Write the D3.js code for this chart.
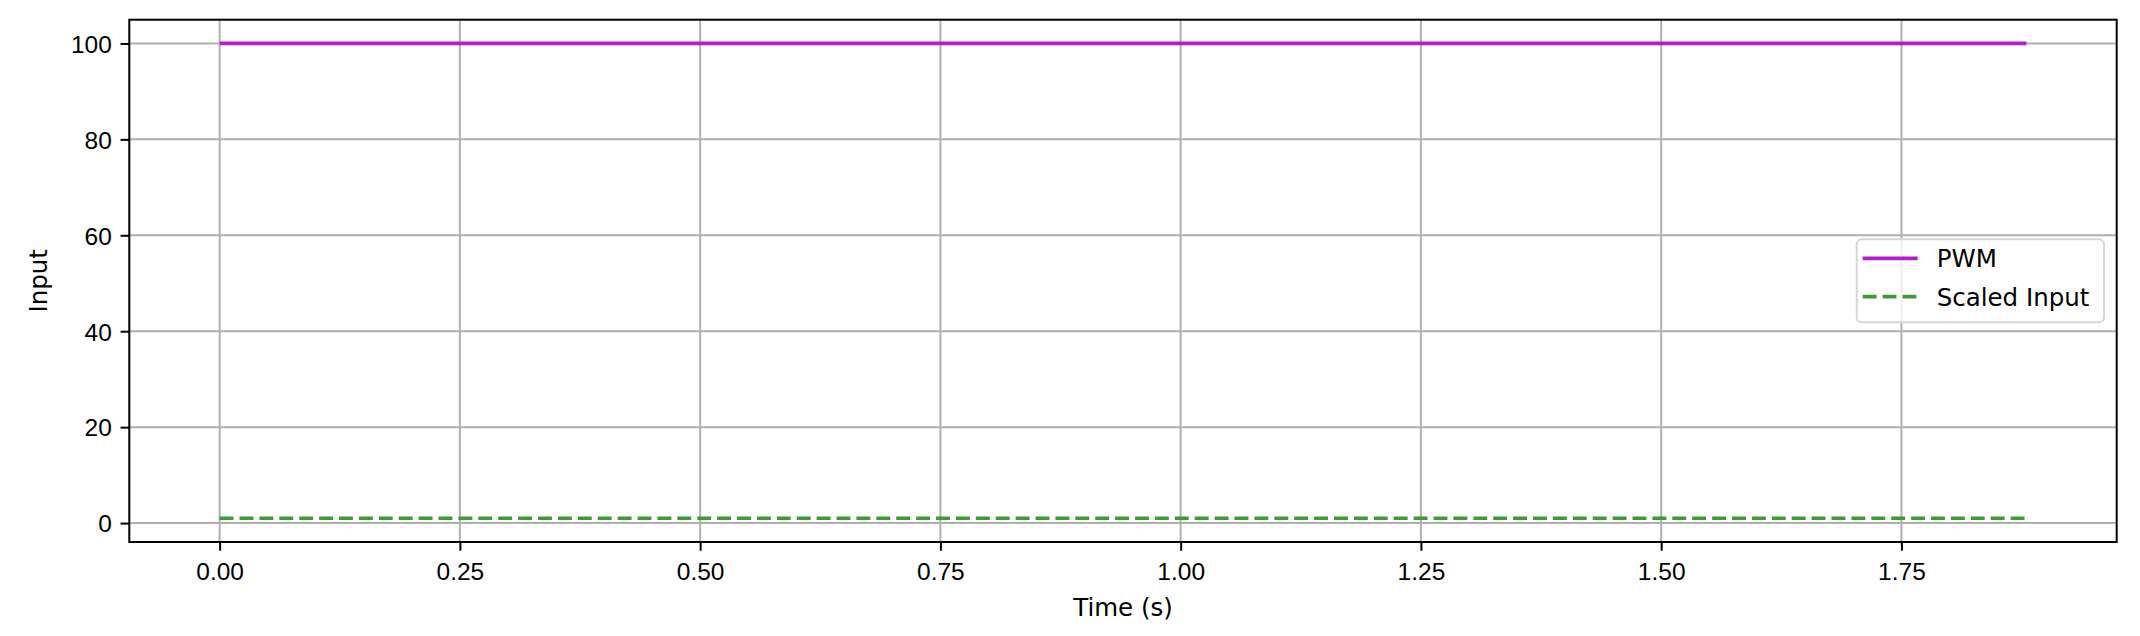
<!DOCTYPE html>
<html>
<head>
<meta charset="utf-8">
<script src="https://cdn.jsdelivr.net/npm/d3@7"></script>
<style>
  body { margin: 0; background: #fff; }
  svg { display: block; font-family: 'DejaVu Sans', sans-serif; }
  .tick text { font-size: 24.5px; fill: #000; }
</style>
</head>
<body>
<div id="chart"></div>
<script>
// data
const timeS = [0, 0.25, 0.5, 0.75, 1.0, 1.25, 1.5, 1.75, 1.88];
const pwm = [100, 100, 100, 100, 100, 100, 100, 100, 100];
const scaledInput = [1, 1, 1, 1, 1, 1, 1, 1, 1];
const xTicks = [0, 0.25, 0.5, 0.75, 1.0, 1.25, 1.5, 1.75];
const yTicks = [0, 20, 40, 60, 80, 100];

const series = [
  { name: 'PWM', values: pwm, color: '#b31fc6', dash: null },
  { name: 'Scaled Input', values: scaledInput, color: '#3f9a35', dash: '13.9,6' }
];

const W = 2140, H = 636;
const margin = { top: 19.7, right: W - 2116.7, bottom: H - 542, left: 129.3 };
const width = W - margin.left - margin.right;
const height = H - margin.top - margin.bottom;

// matplotlib style 5% margins
const xExt = d3.extent(timeS);
const xPad = (xExt[1] - xExt[0]) * 0.05;
const allY = pwm.concat(scaledInput);
const yExt = d3.extent(allY);
const yPad = (yExt[1] - yExt[0]) * 0.05;

const x = d3.scaleLinear().domain([xExt[0] - xPad, xExt[1] + xPad]).range([0, width]);
const y = d3.scaleLinear().domain([yExt[0] - yPad, yExt[1] + yPad]).range([height, 0]);

const svg = d3.select('#chart').append('svg')
  .attr('width', W)
  .attr('height', H);

const chart = svg.append('g')
  .attr('transform', 'translate(' + margin.left + ',' + margin.top + ')');

// grid
chart.append('g')
  .selectAll('line.vgrid')
  .data(xTicks)
  .enter().append('line')
  .attr('x1', d => x(d)).attr('x2', d => x(d))
  .attr('y1', 0).attr('y2', height)
  .attr('stroke', '#b0b0b0').attr('stroke-width', 2);

chart.append('g')
  .selectAll('line.hgrid')
  .data(yTicks)
  .enter().append('line')
  .attr('x1', 0).attr('x2', width)
  .attr('y1', d => y(d)).attr('y2', d => y(d))
  .attr('stroke', '#b0b0b0').attr('stroke-width', 2);

// lines
const line = d3.line()
  .x((d, i) => x(timeS[i]))
  .y(d => y(d));

series.forEach(s => {
  chart.append('path')
    .datum(s.values)
    .attr('fill', 'none')
    .attr('stroke', s.color)
    .attr('stroke-width', 3.7)
    .attr('stroke-dasharray', s.dash)
    .attr('d', line);
});

// axes
const xAxis = d3.axisBottom(x).tickValues(xTicks).tickFormat(d3.format('.2f'))
  .tickSize(8.75).tickPadding(8.75);
const yAxis = d3.axisLeft(y).tickValues(yTicks).tickFormat(d3.format('d'))
  .tickSize(8.75).tickPadding(8.75);

const gx = chart.append('g')
  .attr('transform', 'translate(0,' + height + ')')
  .call(xAxis);
gx.select('.domain').remove();
gx.selectAll('.tick line').attr('stroke', '#000').attr('stroke-width', 2);
gx.selectAll('.tick text').attr('dy', null).attr('y', 38);

const gy = chart.append('g').call(yAxis);
gy.select('.domain').remove();
gy.selectAll('.tick line').attr('stroke', '#000').attr('stroke-width', 2);
gy.selectAll('.tick text').attr('dy', '0.36em');

// spines
chart.append('rect')
  .attr('x', 0).attr('y', 0)
  .attr('width', width).attr('height', height)
  .attr('fill', 'none').attr('stroke', '#000').attr('stroke-width', 2);

// axis labels
svg.append('text')
  .attr('x', margin.left + width / 2)
  .attr('y', 616)
  .attr('text-anchor', 'middle')
  .attr('font-size', 24.5)
  .text('Time (s)');

svg.append('text')
  .attr('transform', 'translate(47,' + (margin.top + height / 2) + ') rotate(-90)')
  .attr('text-anchor', 'middle')
  .attr('font-size', 24.5)
  .text('Input');

// legend
const legend = svg.append('g')
  .attr('transform', 'translate(1856.7,239.3)');

legend.append('rect')
  .attr('width', 247.3).attr('height', 83)
  .attr('rx', 5).attr('ry', 5)
  .attr('fill', '#fff').attr('fill-opacity', 0.8)
  .attr('stroke', '#d6d6d6').attr('stroke-width', 2);

const item = legend.selectAll('g.item')
  .data(series)
  .enter().append('g')
  .attr('class', 'item')
  .attr('transform', (d, i) => 'translate(0,' + (19 + i * 38.4) + ')');

item.append('line')
  .attr('x1', 6).attr('x2', 61)
  .attr('stroke', d => d.color)
  .attr('stroke-width', 3.7)
  .attr('stroke-dasharray', d => d.dash);

item.append('text')
  .attr('x', 80)
  .attr('dy', '0.36em')
  .attr('font-size', 24.5)
  .text(d => d.name);
</script>
</body>
</html>
